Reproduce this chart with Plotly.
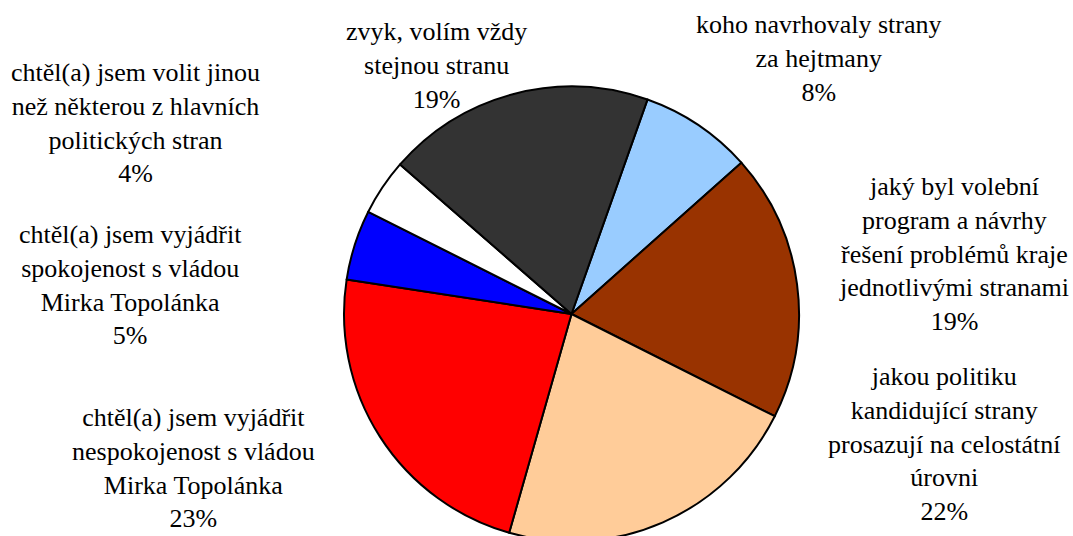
import plotly.graph_objects as go

# Data (slices listed clockwise, starting with the light-blue slice)
categories = [
    "koho navrhovaly strany<br>za hejtmany",
    "jaký byl volební<br>program a návrhy<br>řešení problémů kraje<br>jednotlivými stranami",
    "jakou politiku<br>kandidující strany<br>prosazují na celostátní<br>úrovni",
    "chtěl(a) jsem vyjádřit<br>nespokojenost s vládou<br>Mirka Topolánka",
    "chtěl(a) jsem vyjádřit<br>spokojenost s vládou<br>Mirka Topolánka",
    "chtěl(a) jsem volit jinou<br>než některou z hlavních<br>politických stran",
    "zvyk, volím vždy<br>stejnou stranu",
]
values = [8, 19, 22, 23, 5, 4, 19]
colors = ["#99CCFF", "#993300", "#FFCC99", "#FF0000", "#0000FF", "#FFFFFF", "#333333"]

W, H = 1073, 544  # figure slightly taller than the 536px view; pie bottom is clipped as in the reference
# label block centres in pixels (x, y from top)
label_pos = [(819, 59), (954, 254), (944, 444), (193, 468), (130, 285), (135, 123), (436, 65)]

cx, cy, r = 571.5, 314, 227.5
fig = go.Figure(go.Pie(
    labels=categories,
    values=values,
    sort=False,
    direction="clockwise",
    rotation=19.5,
    marker=dict(colors=colors, line=dict(color="#000000", width=2)),
    textinfo="none",
    hoverinfo="label+percent",
    showlegend=False,
    domain=dict(x=[(cx - r) / W, (cx + r) / W],
                y=[(H - cy - r) / H, (H - cy + r) / H]),
))

for lab, val, (px, py) in zip(categories, values, label_pos):
    fig.add_annotation(
        x=px / W, y=1 - py / H, xref="paper", yref="paper",
        text=f"{lab}<br>{val}%", showarrow=False,
        xanchor="center", yanchor="middle", align="center",
        font=dict(family="Liberation Serif", size=26, color="#000000"),
    )

fig.update_layout(
    width=W, height=H,
    margin=dict(l=0, r=0, t=0, b=0),
    paper_bgcolor="#FFFFFF", plot_bgcolor="#FFFFFF",
)
fig.write_html(
    "out.html",
    config={"displayModeBar": False},
    post_script="document.body.style.margin='0';document.body.style.overflow='hidden';",
)
